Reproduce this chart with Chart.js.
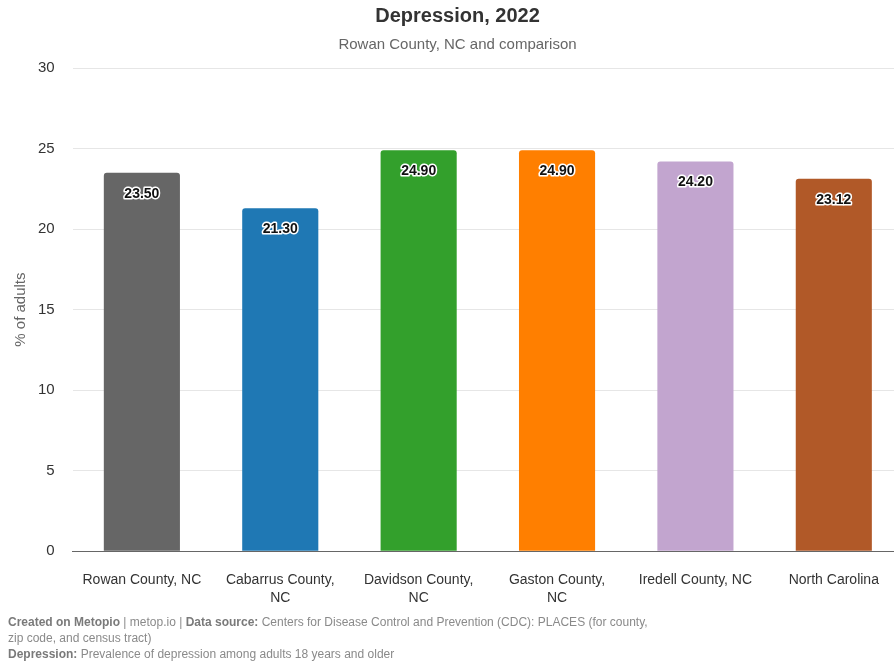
<!DOCTYPE html>
<html>
<head>
<meta charset="utf-8">
<script src="https://cdn.jsdelivr.net/npm/chart.js@4/dist/chart.umd.min.js"></script>
<style>
  body { margin: 0; overflow: hidden; background: #fff; font-family: "Liberation Sans", Arial, sans-serif; }
  #wrap { position: relative; width: 903px; height: 619px; }
  #footer { position: absolute; left: 8px; top: 614px; width: 650px; font-size: 12px; line-height: 16px; color: #8a8a8a; }
  #footer b { color: #7a7a7a; }
</style>
</head>
<body>
<div id="wrap"><canvas id="chart01"></canvas></div>
<div id="footer">
  <b>Created on Metopio</b> | metop.io | <b>Data source:</b> Centers for Disease Control and Prevention (CDC): PLACES (for county, zip code, and census tract)<br>
  <b>Depression:</b> Prevalence of depression among adults 18 years and older
</div>
<script>
const places = [
    'Rowan County, NC',
    ['Cabarrus County,', 'NC'],
    ['Davidson County,', 'NC'],
    ['Gaston County,', 'NC'],
    'Iredell County, NC',
    'North Carolina'
];
const depression = [23.50, 21.30, 24.90, 24.90, 24.20, 23.12];
const barColors = ['#666666', '#1f78b4', '#33a02c', '#ff7f00', '#c2a5cf', '#b15928'];
const yTicks = [0, 5, 10, 15, 20, 25, 30];

// etiquetas dentro das barras
const valueLabels = {
    id: 'valueLabels',
    afterDatasetsDraw(chart) {
        const ctx = chart.ctx;
        const meta = chart.getDatasetMeta(0);
        ctx.save();
        ctx.font = 'bold 14px "Liberation Sans", Arial, sans-serif';
        ctx.textAlign = 'center';
        ctx.textBaseline = 'middle';
        ctx.lineJoin = 'round';
        meta.data.forEach((bar, i) => {
            const text = depression[i].toFixed(2);
            ctx.lineWidth = 3;
            ctx.strokeStyle = '#ffffff';
            ctx.strokeText(text, bar.x, bar.y + 21);
            ctx.fillStyle = '#111111';
            ctx.fillText(text, bar.x, bar.y + 21);
        });
        ctx.restore();
    }
};

const ctx01 = document.getElementById('chart01');
const chart = new Chart(ctx01, {
    type: 'bar',
    data: {
        labels: places,
        datasets: [{
            label: 'Depression',
            data: depression,
            backgroundColor: barColors,
            borderRadius: { topLeft: 3, topRight: 3 },
            borderSkipped: 'bottom',
            categoryPercentage: 1,
            barPercentage: 0.55
        }]
    },
    options: {
        responsive: true,
        maintainAspectRatio: false,
        animation: false,
        layout: { padding: { left: 12, right: 0, top: 0, bottom: 0 } },
        plugins: {
            legend: { display: false },
            tooltip: { enabled: false },
            title: {
                display: true,
                text: 'Depression, 2022',
                color: '#333333',
                font: { family: '"Liberation Sans", Arial, sans-serif', size: 20, weight: 'bold' },
                padding: { top: 4, bottom: 8 }
            },
            subtitle: {
                display: true,
                text: 'Rowan County, NC and comparison',
                color: '#666666',
                font: { family: '"Liberation Sans", Arial, sans-serif', size: 15 },
                padding: { bottom: 14 }
            }
        },
        scales: {
            x: {
                grid: { display: false },
                border: { color: '#666666', width: 1 },
                ticks: {
                    color: '#333333',
                    maxRotation: 0,
                    autoSkip: false,
                    padding: 11,
                    font: { family: '"Liberation Sans", Arial, sans-serif', size: 14, lineHeight: 1.35 }
                }
            },
            y: {
                min: 0,
                max: 30,
                afterBuildTicks: (axis) => { axis.ticks = yTicks.map(v => ({ value: v })); },
                border: { display: false },
                grid: { color: '#e6e6e6', drawTicks: false },
                ticks: {
                    color: '#333333',
                    padding: 18,
                    font: { family: '"Liberation Sans", Arial, sans-serif', size: 15 }
                },
                title: {
                    display: true,
                    text: '% of adults',
                    color: '#666666',
                    padding: { top: 0, bottom: -10 },
                    font: { family: '"Liberation Sans", Arial, sans-serif', size: 15 }
                }
            }
        }
    },
    plugins: [valueLabels]
});
</script>
</body>
</html>
